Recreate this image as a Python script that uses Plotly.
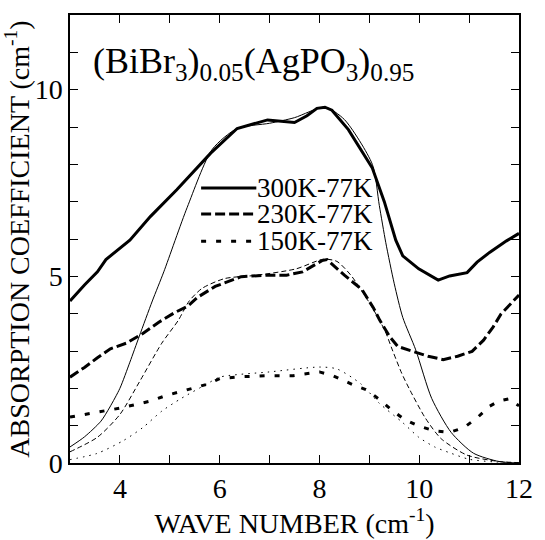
import plotly.graph_objects as go

# 300K-77K measured (thick solid)
x300 = [3.0, 3.29, 3.55, 3.72, 4.2, 4.61, 5.14, 5.41, 5.82, 6.35, 6.96, 7.5, 7.75, 7.95, 8.11, 8.25, 8.58, 9.06, 9.3, 9.53, 9.67, 9.99, 10.38, 10.61, 10.96, 11.16, 11.41, 11.75, 12.0]
y300 = [4.34, 4.77, 5.12, 5.45, 5.97, 6.6, 7.32, 7.71, 8.3, 8.96, 9.19, 9.12, 9.3, 9.5, 9.53, 9.45, 8.93, 7.9, 7.0, 5.97, 5.55, 5.2, 4.9, 5.01, 5.1, 5.38, 5.64, 5.95, 6.15]

# 300K fit (thin solid)
xf300 = [3.0, 3.29, 3.62, 3.8, 4.0, 4.2, 4.39, 4.65, 4.88, 5.35, 5.85, 6.35, 7.0, 7.5, 8.11, 8.5, 9.06, 9.2, 9.33, 9.5, 9.67, 9.93, 10.25, 10.64, 11.09, 11.6, 12.0]
yf300 = [0.43, 0.7, 1.12, 1.5, 2.0, 2.7, 3.4, 4.34, 5.12, 6.85, 8.4, 8.96, 9.1, 9.25, 9.53, 9.2, 8.0, 6.9, 5.9, 4.8, 3.9, 3.03, 1.73, 0.82, 0.26, 0.04, 0.0]

# 230K-77K measured (thick dashed)
x230 = [3.0, 3.29, 3.55, 3.81, 4.13, 4.46, 4.78, 5.1, 5.36, 5.56, 5.91, 6.43, 6.95, 7.34, 7.66, 8.05, 8.15, 8.5, 8.85, 9.08, 9.21, 9.41, 9.57, 9.89, 10.18, 10.48, 10.77, 11.06, 11.29, 11.48, 11.64, 12.0]
y230 = [2.3, 2.56, 2.82, 3.06, 3.21, 3.47, 3.77, 4.03, 4.2, 4.44, 4.73, 4.99, 5.03, 5.03, 5.12, 5.42, 5.45, 5.03, 4.65, 4.16, 3.82, 3.38, 3.12, 2.99, 2.86, 2.77, 2.86, 2.99, 3.29, 3.64, 3.99, 4.5]

# 230K fit (thin dashed)
xf230 = [3.0, 3.55, 4.0, 4.39, 4.84, 5.17, 5.39, 5.65, 6.1, 6.75, 7.53, 8.08, 8.35, 8.63, 9.02, 9.31, 9.47, 9.65, 9.8, 10.12, 10.44, 10.96, 11.6, 12.0]
yf230 = [0.3, 0.69, 1.3, 2.17, 3.21, 3.82, 4.34, 4.68, 4.94, 5.03, 5.2, 5.46, 5.4, 5.03, 4.25, 3.55, 3.0, 2.4, 1.99, 1.21, 0.65, 0.21, 0.04, 0.01]

# 150K-77K measured (thick dotted)
x150 = [3.0, 3.36, 3.68, 4.0, 4.3, 4.62, 4.91, 5.23, 5.56, 5.78, 6.0, 6.43, 7.0, 7.47, 8.0, 8.27, 8.7, 8.96, 9.21, 9.44, 9.7, 9.99, 10.31, 10.61, 10.9, 11.16, 11.41, 11.6, 11.8, 12.0]
y150 = [1.23, 1.31, 1.4, 1.47, 1.56, 1.66, 1.8, 1.91, 2.04, 2.12, 2.26, 2.31, 2.34, 2.34, 2.44, 2.34, 2.08, 1.95, 1.69, 1.43, 1.17, 0.99, 0.86, 0.82, 0.95, 1.21, 1.52, 1.66, 1.72, 1.53]

# 150K fit (thin dotted)
xf150 = [3.0, 3.55, 4.07, 4.46, 4.84, 5.23, 5.75, 6.0, 7.0, 8.0, 8.35, 8.83, 9.2, 9.67, 9.99, 10.31, 10.64, 11.0, 11.5, 12.0]
yf150 = [0.09, 0.26, 0.6, 0.95, 1.39, 1.73, 2.12, 2.3, 2.44, 2.57, 2.52, 2.12, 1.6, 1.08, 0.69, 0.43, 0.26, 0.1, 0.03, 0.01]

legend_names = ["300K-77K", "230K-77K", "150K-77K"]
thick_dashes = ["solid", "10px,4px", "5px,10px"]

FONT = "Liberation Serif"

fig = go.Figure()
fig.add_trace(go.Scatter(x=xf300, y=yf300, mode="lines", line=dict(color="black", width=1, shape="spline", smoothing=0.7), showlegend=False))
fig.add_trace(go.Scatter(x=xf230, y=yf230, mode="lines", line=dict(color="black", width=1, dash="5px,3px", shape="spline", smoothing=0.7), showlegend=False))
fig.add_trace(go.Scatter(x=xf150, y=yf150, mode="lines", line=dict(color="black", width=1, dash="1.5px,5px", shape="spline", smoothing=0.7), showlegend=False))
for xs, ys, nm, ds in zip([x300, x230, x150], [y300, y230, y150], legend_names, thick_dashes):
    fig.add_trace(go.Scatter(x=xs, y=ys, mode="lines", name=nm, showlegend=False,
                             line=dict(color="black", width=3, dash=ds)))

# manual legend (compact line spacing like the original)
leg_y = [0.614, 0.556, 0.495]
for nm, ds, ly in zip(legend_names, thick_dashes, leg_y):
    fig.add_shape(type="line", xref="paper", yref="paper", x0=0.292, x1=0.415, y0=ly, y1=ly,
                  line=dict(color="black", width=3, dash=ds))
    fig.add_annotation(x=0.413, y=ly, xref="paper", yref="paper", xanchor="left", yanchor="middle",
                       showarrow=False, text=nm, font=dict(family=FONT, size=27, color="black"))

axis_common = dict(
    showline=True, linecolor="black", linewidth=1.5, mirror="ticks",
    ticks="inside", ticklen=8, tickwidth=1, tickcolor="black",
    showgrid=False, zeroline=False,
    tickfont=dict(family=FONT, size=28, color="black"),
    minor=dict(ticks="inside", ticklen=8, tickwidth=1, tickcolor="black", dtick=1, showgrid=False),
)

fig.update_xaxes(range=[3, 12], tick0=0, dtick=2, **axis_common,
                 title=dict(text="WAVE NUMBER (cm<sup>-1</sup>)", font=dict(family=FONT, size=28, color="black"), standoff=4))
fig.update_yaxes(range=[0, 12], tick0=0, dtick=5, **axis_common,
                 title=dict(text="ABSORPTION COEFFICIENT (cm<sup>-1</sup>)", font=dict(family=FONT, size=28, color="black"), standoff=2))

fig.add_annotation(x=0.047, y=0.838, xref="paper", yref="paper", xanchor="left", yanchor="bottom", showarrow=False,
                   text="(BiBr<sub>3</sub>)<sub>0.05</sub>(AgPO<sub>3</sub>)<sub>0.95</sub>",
                   font=dict(family=FONT, size=36, color="black"))

fig.update_layout(
    width=545, height=540,
    margin=dict(l=70, r=12, t=15, b=63),
    paper_bgcolor="white", plot_bgcolor="white",
    showlegend=False,
)

fig.write_html("out.html")
